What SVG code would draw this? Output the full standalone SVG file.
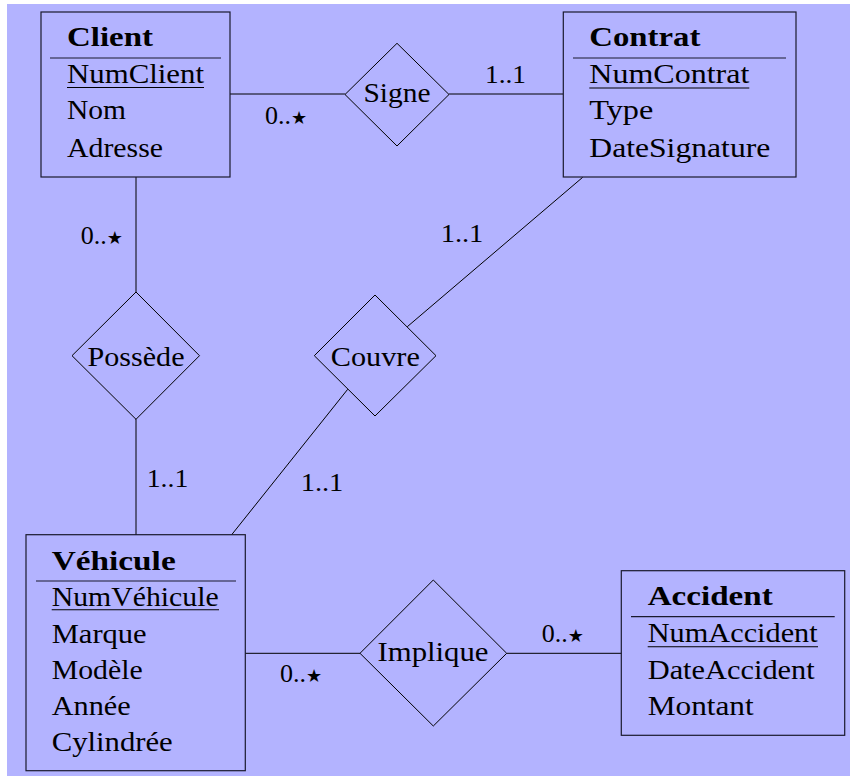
<svg xmlns="http://www.w3.org/2000/svg" width="850" height="776" viewBox="0 0 850 776">
<style>
.t text{font-size:27px;fill:#000;font-family:"Liberation Serif","Times New Roman",serif}
.b{font-weight:bold}
.m{text-anchor:middle}
.box{fill:none;stroke:#1a1a2e;stroke-width:1.2}
.sep{stroke:#1a1a2e;stroke-width:1.2}
.ul{stroke:#000;stroke-width:1.1}
.dia{fill:none;stroke:#000;stroke-width:1}
.ln{stroke:#000;stroke-width:1;fill:none}
.t text.card{font-size:26px}
.st{font-size:18px;font-family:"DejaVu Sans",sans-serif}
</style>
<rect x="0" y="0" width="850" height="776" fill="#fff"/>
<rect x="7" y="4" width="843" height="772" fill="#B3B3FF"/>
<g class="t">
<g id="connectors">
<line class="ln" x1="230" y1="94" x2="345" y2="94"/>
<line class="ln" x1="449" y1="94" x2="563" y2="94"/>
<line class="ln" x1="136" y1="177" x2="136" y2="292"/>
<line class="ln" x1="136" y1="419" x2="136" y2="535"/>
<line class="ln" x1="582.7" y1="177.3" x2="407.3" y2="326.7"/>
<line class="ln" x1="347.7" y1="389.3" x2="231.7" y2="534.7"/>
<line class="ln" x1="245.3" y1="653.3" x2="360" y2="653.3"/>
<line class="ln" x1="506.7" y1="653.3" x2="621.3" y2="653.3"/>
<text class="card" x="265" y="124">0..<tspan class="st">★</tspan></text>
<text class="card" x="485" y="83.3" textLength="41" lengthAdjust="spacingAndGlyphs">1..1</text>
<text class="card" x="80.7" y="244.3">0..<tspan class="st">★</tspan></text>
<text class="card" x="146.7" y="486.7" textLength="41.6" lengthAdjust="spacingAndGlyphs">1..1</text>
<text class="card" x="440.7" y="241.7" textLength="42.6" lengthAdjust="spacingAndGlyphs">1..1</text>
<text class="card" x="300.7" y="490.7" textLength="42.6" lengthAdjust="spacingAndGlyphs">1..1</text>
<text class="card" x="280" y="682.3">0..<tspan class="st">★</tspan></text>
<text class="card" x="541.7" y="642.3">0..<tspan class="st">★</tspan></text>
</g>
<g id="client">
<rect class="box" x="41" y="12" width="189" height="165"/>
<line class="sep" x1="50" y1="58" x2="221" y2="58"/>
<text class="b" x="67" y="46" textLength="86" lengthAdjust="spacingAndGlyphs">Client</text>
<text x="67" y="83" textLength="137" lengthAdjust="spacingAndGlyphs">NumClient</text>
<line class="ul" x1="67" y1="87.5" x2="204" y2="87.5"/>
<text x="67" y="119" textLength="59" lengthAdjust="spacingAndGlyphs">Nom</text>
<text x="67" y="156.5" textLength="96" lengthAdjust="spacingAndGlyphs">Adresse</text>
</g>
<g id="contrat">
<rect class="box" x="563.3" y="12" width="232.7" height="165"/>
<line class="sep" x1="573" y1="58" x2="786" y2="58"/>
<text class="b" x="589.3" y="46" textLength="111" lengthAdjust="spacingAndGlyphs">Contrat</text>
<text x="589.3" y="83" textLength="160" lengthAdjust="spacingAndGlyphs">NumContrat</text>
<line class="ul" x1="589.3" y1="88" x2="749.3" y2="88"/>
<text x="589.3" y="119" textLength="64" lengthAdjust="spacingAndGlyphs">Type</text>
<text x="589.3" y="157" textLength="181" lengthAdjust="spacingAndGlyphs">DateSignature</text>
</g>
<g id="vehicule">
<rect class="box" x="26" y="534.7" width="219.3" height="236"/>
<line class="sep" x1="36" y1="581" x2="236" y2="581"/>
<text class="b" x="51.7" y="570" textLength="124" lengthAdjust="spacingAndGlyphs">Véhicule</text>
<text x="51.7" y="606" textLength="167" lengthAdjust="spacingAndGlyphs">NumVéhicule</text>
<line class="ul" x1="51.7" y1="609.8" x2="219" y2="609.8"/>
<text x="51.7" y="643.3" textLength="95" lengthAdjust="spacingAndGlyphs">Marque</text>
<text x="51.7" y="679" textLength="91" lengthAdjust="spacingAndGlyphs">Modèle</text>
<text x="51.7" y="715" textLength="79" lengthAdjust="spacingAndGlyphs">Année</text>
<text x="51.7" y="750.7" textLength="121" lengthAdjust="spacingAndGlyphs">Cylindrée</text>
</g>
<g id="accident">
<rect class="box" x="621.3" y="570.7" width="223.4" height="164.6"/>
<line class="sep" x1="631" y1="616.7" x2="834.7" y2="616.7"/>
<text class="b" x="647.7" y="605.3" textLength="125" lengthAdjust="spacingAndGlyphs">Accident</text>
<text x="647.7" y="642" textLength="170" lengthAdjust="spacingAndGlyphs">NumAccident</text>
<line class="ul" x1="647.7" y1="646.7" x2="818" y2="646.7"/>
<text x="647.7" y="678.7" textLength="167" lengthAdjust="spacingAndGlyphs">DateAccident</text>
<text x="647.7" y="714.7" textLength="106" lengthAdjust="spacingAndGlyphs">Montant</text>
</g>
<g id="signe">
<polygon class="dia" points="397,43.3 449,94.5 397,146 345,94.5"/>
<text class="m" x="397" y="101.7" textLength="67" lengthAdjust="spacingAndGlyphs">Signe</text>
</g>
<g id="possede">
<polygon class="dia" points="136,292 199.5,355.7 136,419.3 72,355.7"/>
<text class="m" x="136" y="365.7" textLength="97" lengthAdjust="spacingAndGlyphs">Possède</text>
</g>
<g id="couvre">
<polygon class="dia" points="375,295 436,355.7 375,416 314.3,355.7"/>
<text class="m" x="375.3" y="365.7" textLength="89" lengthAdjust="spacingAndGlyphs">Couvre</text>
</g>
<g id="implique">
<polygon class="dia" points="433.3,580 506.7,653.3 433.3,726 360,653.3"/>
<text class="m" x="433" y="660.7" textLength="111" lengthAdjust="spacingAndGlyphs">Implique</text>
</g>
</g>
</svg>
